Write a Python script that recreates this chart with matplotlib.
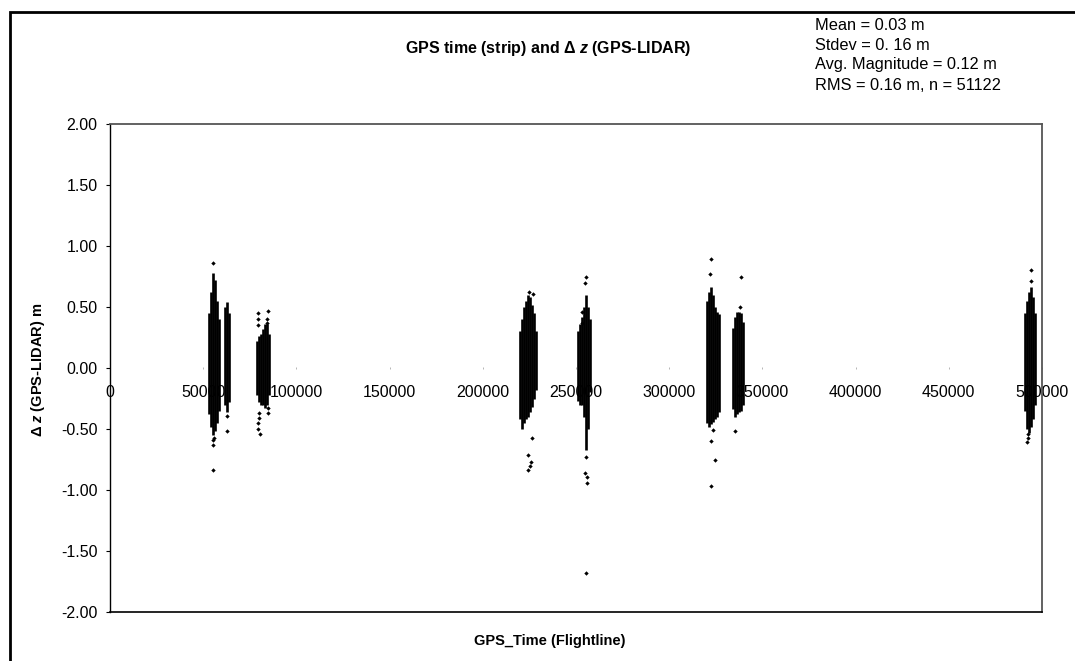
import matplotlib
matplotlib.use("Agg")
import matplotlib.pyplot as plt
from matplotlib.patches import Rectangle

plt.rcParams['font.family'] = ['Liberation Sans', 'DejaVu Sans']
plt.rcParams['mathtext.fontset'] = 'custom'
plt.rcParams['mathtext.it'] = 'Liberation Sans:italic:bold'
plt.rcParams['mathtext.rm'] = 'Liberation Sans:bold'

# ---- data ----
# dense cores: per cluster, column x positions (GPS time) with min / max delta z
core_a_x = [53100, 54200, 55300, 56300, 57400, 58500]
core_a_lo = [-0.38, -0.48, -0.55, -0.52, -0.45, -0.35]
core_a_hi = [0.45, 0.62, 0.78, 0.72, 0.55, 0.40]

core_a2_x = [61700, 62800, 63800]
core_a2_lo = [-0.30, -0.36, -0.28]
core_a2_hi = [0.50, 0.54, 0.45]

core_a3_x = [78900, 79900, 81000, 82100, 83200, 84200, 85300]
core_a3_lo = [-0.22, -0.28, -0.30, -0.30, -0.33, -0.30, -0.22]
core_a3_hi = [0.22, 0.26, 0.28, 0.32, 0.36, 0.36, 0.28]

core_b_x = [220000, 221000, 222100, 223200, 224300, 225300, 226400, 227500, 228500]
core_b_lo = [-0.42, -0.50, -0.45, -0.42, -0.40, -0.36, -0.32, -0.25, -0.18]
core_b_hi = [0.30, 0.40, 0.50, 0.55, 0.60, 0.58, 0.52, 0.45, 0.30]

core_c_x = [251100, 252100, 253200, 254300, 255400, 256400, 257500]
core_c_lo = [-0.27, -0.30, -0.30, -0.40, -0.67, -0.50, -0.20]
core_c_hi = [0.30, 0.36, 0.42, 0.50, 0.60, 0.50, 0.40]

core_d_x = [320300, 321300, 322400, 323500, 324500, 325600, 326700]
core_d_lo = [-0.45, -0.48, -0.46, -0.44, -0.42, -0.40, -0.36]
core_d_hi = [0.55, 0.62, 0.66, 0.60, 0.50, 0.46, 0.44]

core_e_x = [334200, 335300, 336400, 337400, 338500, 339600]
core_e_lo = [-0.34, -0.40, -0.38, -0.36, -0.35, -0.30]
core_e_hi = [0.33, 0.42, 0.46, 0.46, 0.45, 0.38]

core_f_x = [490900, 491900, 493000, 494100, 495200, 496200]
core_f_lo = [-0.35, -0.50, -0.53, -0.48, -0.42, -0.30]
core_f_hi = [0.45, 0.55, 0.62, 0.66, 0.58, 0.45]

# isolated points outside the dense cores
sparse_x = [55300, 55500, 55300, 55300, 56000,
            62800, 62800,
            79400, 84700, 79400, 79400, 84200, 84200, 79900, 84700, 84700, 79900, 79400, 79400, 80400,
            226900, 224800, 226400, 224300, 225900, 225300, 224300,
            255400, 254800, 253200, 253200, 255400, 254800, 255900, 255900, 255400,
            322400, 321900, 323500, 322400, 324500, 322400,
            338000, 338500, 335300,
            494100, 494100, 492400, 491900, 492400]
sparse_y = [0.86, -0.59, -0.63, -0.84, -0.57,
            -0.39, -0.52,
            0.45, 0.47, 0.40, 0.35, 0.40, 0.37, -0.37, -0.33, -0.37, -0.41, -0.45, -0.50, -0.54,
            0.61, 0.62, -0.57, -0.71, -0.77, -0.80, -0.84,
            0.75, 0.70, 0.46, 0.37, -0.73, -0.86, -0.89, -0.94, -1.68,
            0.89, 0.77, -0.51, -0.60, -0.75, -0.97,
            0.50, 0.75, -0.52,
            0.80, 0.71, -0.57, -0.61, -0.54]

x_ticks = [0, 50000, 100000, 150000, 200000, 250000, 300000, 350000, 400000, 450000, 500000]
y_ticks = [-2.0, -1.5, -1.0, -0.5, 0.0, 0.5, 1.0, 1.5, 2.0]

title = "GPS time (strip) and \u0394 $\\mathit{z}$ (GPS-LIDAR)"
ylabel = "\u0394 $\\mathit{z}$ (GPS-LIDAR) m"
xlabel = "GPS_Time (Flightline)"
stats = ["Mean = 0.03 m", "Stdev = 0. 16 m", "Avg. Magnitude = 0.12 m", "RMS = 0.16 m, n = 51122"]

# ---- figure ----
W, H = 1075, 661
fig = plt.figure(figsize=(W / 100, H / 100), dpi=100)
ax = fig.add_axes([110 / W, 1 - 612 / H, (1042 - 110) / W, (612 - 124) / H])

cores = [(core_a_x, core_a_lo, core_a_hi), (core_a2_x, core_a2_lo, core_a2_hi),
         (core_a3_x, core_a3_lo, core_a3_hi), (core_b_x, core_b_lo, core_b_hi),
         (core_c_x, core_c_lo, core_c_hi), (core_d_x, core_d_lo, core_d_hi),
         (core_e_x, core_e_lo, core_e_hi), (core_f_x, core_f_lo, core_f_hi)]
for cx, lo, hi in cores:
    ax.vlines(cx, lo, hi, colors='black', linewidth=1.9, zorder=3)
ax.scatter(sparse_x, sparse_y, marker='D', s=5, color='black', linewidths=0, zorder=3)

ax.set_xlim(0, 500000)
ax.set_ylim(-2.0, 2.0)
ax.set_xticks(x_ticks)
ax.set_xticklabels([str(v) for v in x_ticks])
ax.set_yticks(y_ticks)
ax.set_yticklabels([f"{v:.2f}" for v in y_ticks])

ax.spines['bottom'].set_position(('data', 0))
ax.spines['bottom'].set_color('none')
ax.spines['left'].set_color('black')
ax.spines['left'].set_linewidth(1.0)
ax.spines['top'].set_color('#555555')
ax.spines['right'].set_color('#555555')
ax.spines['top'].set_linewidth(1.3)
ax.spines['right'].set_linewidth(1.3)
ax.plot([0, 1], [0, 0], transform=ax.transAxes, color='black', lw=1.2, clip_on=False, zorder=4)

ax.tick_params(axis='x', direction='inout', length=2, width=0.6, color='#aaaaaa',
               pad=11, labelsize=11.5, labelcolor='black')
ax.tick_params(axis='y', direction='out', length=3, width=0.8, color='black',
               pad=6, labelsize=11.5)

fig.text(548 / W, 1 - 48 / H, title, ha='center', va='center', fontsize=11.5, fontweight='bold')
for i, s in enumerate(stats):
    fig.text(815 / W, 1 - (25 + 20 * i) / H, s, ha='left', va='center', fontsize=11.8)
fig.text(38 / W, 1 - 370 / H, ylabel, ha='center', va='center', rotation=90,
         fontsize=10.5, fontweight='bold')
fig.text(550 / W, 1 - 641 / H, xlabel, ha='center', va='center', fontsize=10.5, fontweight='bold')

fig.add_artist(Rectangle((10 / W, -0.5), 2.0, 1.5 - 12 / H, transform=fig.transFigure,
                         fill=False, edgecolor='black', linewidth=2.0))

fig.savefig("out.png", dpi=100)
